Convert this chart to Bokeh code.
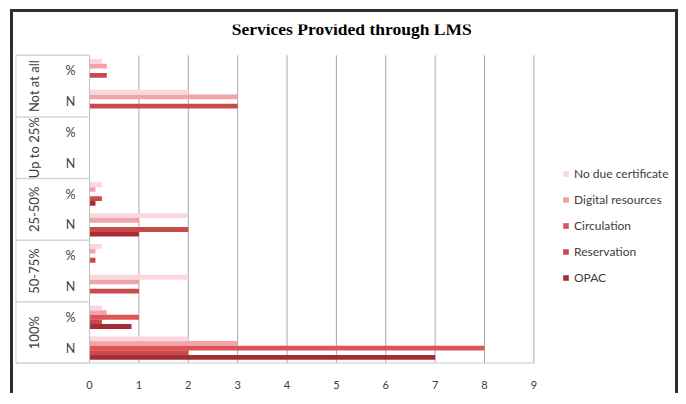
from math import pi
from bokeh.plotting import figure
from bokeh.models import (FactorRange, Range1d, FixedTicker, Legend, LegendItem,
                          ColumnDataSource)
from bokeh.transform import dodge
from bokeh.core.properties import value
from bokeh.embed import file_html
from bokeh.resources import INLINE

# ---------------- data ----------------
title = "Services Provided through LMS"
groups = ["100%", "50-75%", "25-50%", "Up to 25%", "Not at all"]
subgroups = ["N", "%"]
series_names = ["OPAC", "Reservation", "Circulation", "Digital resources", "No due certificate"]
# values in category order: 100% N, 100% %, 50-75% N, 50-75% %, 25-50% N, 25-50% %,
# Up to 25% N, Up to 25% %, Not at all N, Not at all %
opac = [7, 0.85, 0, 0, 1, 0.12, 0, 0, 0, 0]
reservation = [2, 0.25, 1, 0.12, 2, 0.25, 0, 0, 3, 0.35]
circulation = [8, 1, 0, 0, 0, 0, 0, 0, 0, 0]
digital_resources = [3, 0.35, 1, 0.12, 1, 0.12, 0, 0, 3, 0.35]
no_due_certificate = [2, 0.25, 2, 0.25, 2, 0.25, 0, 0, 2, 0.25]
x_ticks = [0, 1, 2, 3, 4, 5, 6, 7, 8, 9]

# ---------------- styles ----------------
colors = ["#a52c35", "#c84b4c", "#df5457", "#f2a3a8", "#fad7de"]
offsets = [-0.3, -0.15, 0.0, 0.15, 0.3]
FONT = value("Lato")
TXT = "#404040"
X_LEFT = -1.5
X_RIGHT = 11.95
TITLE_ROW = (" ", " ")   # empty layout row above the categories that holds the title

factors = [(g, s) for g in groups for s in subgroups]
cols = ["opac", "reservation", "circulation", "digital", "nodue"]
src = ColumnDataSource(dict(cat=factors, opac=opac, reservation=reservation,
                            circulation=circulation, digital=digital_resources,
                            nodue=no_due_certificate))

p = figure(width=668, height=384,
           x_range=Range1d(X_LEFT, X_RIGHT),
           y_range=FactorRange(factors=factors + [TITLE_ROW], group_padding=0,
                               factor_padding=0, subgroup_padding=0, range_padding=0),
           output_backend="svg", toolbar_location=None,
           min_border_left=2, min_border_right=2, min_border_top=12,
           min_border_bottom=33)
p.styles = {"margin-left": "10px", "margin-top": "9px",
            "border-left": "3px solid #2e2e2e", "border-top": "3px solid #2e2e2e",
            "border-right": "3px solid #2e2e2e"}
p.background_fill_color = "white"
p.border_fill_color = "white"
p.outline_line_color = None

# axes
p.yaxis.visible = False
p.ygrid.visible = False
p.xgrid.visible = False
p.xaxis.ticker = FixedTicker(ticks=x_ticks)
p.xaxis.major_tick_line_color = None
p.xaxis.minor_tick_line_color = None
p.xaxis.major_tick_out = 0
p.xaxis.major_tick_in = 0
p.xaxis.axis_line_color = None
p.xaxis.major_label_text_font = "Lato"
p.xaxis.major_label_text_font_size = "11px"
p.xaxis.major_label_text_color = TXT
p.xaxis.major_label_standoff = 17

# vertical grid lines (only over the category rows)
grid_src = ColumnDataSource(dict(x=x_ticks[1:], yb=[factors[0]] * (len(x_ticks) - 1),
                                 yt=[factors[-1]] * (len(x_ticks) - 1)))
p.segment(x0="x", x1="x", y0=dodge("yb", -0.5, range=p.y_range),
          y1=dodge("yt", 0.5, range=p.y_range), source=grid_src,
          line_color="#a9a9a9", line_width=1)

# bars
renderers = []
for col, name, color, off in zip(cols, series_names, colors, offsets):
    r = p.hbar(y=dodge("cat", off, range=p.y_range), left=0, right=col, height=0.158,
               source=src, fill_color=color, line_color=None)
    renderers.append((name, r))

# category label box and value axis line
sep_src = ColumnDataSource(dict(g=groups))
top_src = ColumnDataSource(dict(g=groups[-1:]))
bot_src = ColumnDataSource(dict(g=groups[:1]))
p.segment(x0=0, x1=0, y0=dodge("g", -1, range=p.y_range), y1=dodge("g", 1, range=p.y_range),
          source=sep_src, line_color="#bdbdbd", line_width=1)
p.segment(x0=X_LEFT, x1=X_LEFT, y0=dodge("g", -1, range=p.y_range), y1=dodge("g", 1, range=p.y_range),
          source=sep_src, line_color="#d4d4d4", line_width=2)
p.segment(x0=X_LEFT, x1=0, y0=dodge("g", -1, range=p.y_range), y1=dodge("g", -1, range=p.y_range),
          source=sep_src, line_color="#d4d4d4", line_width=1.5)
p.segment(x0=X_LEFT, x1=0, y0=dodge("g", 1, range=p.y_range), y1=dodge("g", 1, range=p.y_range),
          source=top_src, line_color="#d4d4d4", line_width=1.5)
p.segment(x0=X_LEFT, x1=x_ticks[-1], y0=dodge("g", -1, range=p.y_range),
          y1=dodge("g", -1, range=p.y_range),
          source=bot_src, line_color="#c8c8c8", line_width=2)

# labels
p.text(x=-1.13, y="g", text="g", source=sep_src, angle=pi / 2,
       text_align="center", text_baseline="middle", text_font=FONT,
       text_font_size="13px", text_color=TXT)
sub_src = ColumnDataSource(dict(cat=factors, lab=[s for g in groups for s in subgroups]))
p.text(x=-0.385, y="cat", text="lab", source=sub_src,
       text_align="center", text_baseline="middle", text_font=FONT,
       text_font_size="12.5px", text_color=TXT)

# title
title_src = ColumnDataSource(dict(row=[TITLE_ROW], t=[title]))
p.text(x=5.31, y=dodge("row", 0.34, range=p.y_range), text="t", source=title_src,
       text_align="center", text_baseline="middle",
       text_font=value("Liberation Serif"), text_font_style="bold",
       text_font_size="17.5px", text_color="black")

# legend
items = [LegendItem(label=n, renderers=[r]) for n, r in reversed(renderers)]
legend = Legend(items=items, location=(547, 78), orientation="vertical",
                glyph_width=7, glyph_height=7, label_standoff=5, label_height=16,
                spacing=10, padding=0, margin=0,
                label_text_font="Lato", label_text_font_size="12px",
                label_text_color=TXT, border_line_color=None,
                background_fill_alpha=0)
p.add_layout(legend)

open("out.html", "w").write(file_html(p, INLINE))
